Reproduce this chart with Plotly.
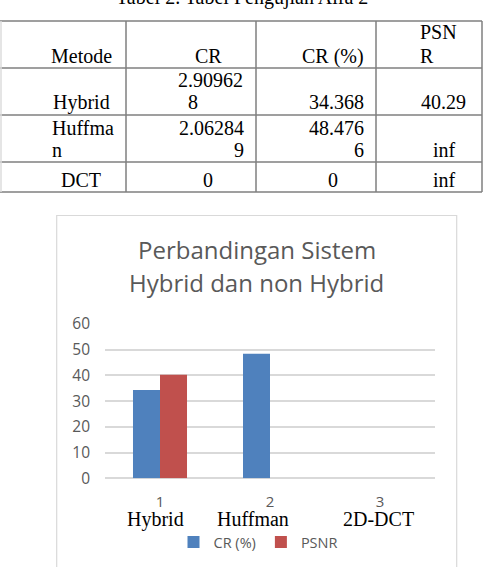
import plotly.graph_objects as go

W, H = 485, 567

# ---------------- data ----------------
caption = "Tabel 2. Tabel Pengujian Alfa 2"
table_header = ["Metode", "CR", "CR (%)", "PSNR"]
table_methods = ["Hybrid", "Huffman", "DCT"]
table_cr = ["2.909628", "2.062849", "0"]
table_cr_pct = ["34.368", "48.4766", "0"]
table_psnr = ["40.29", "inf", "inf"]

chart_title = ["Perbandingan Sistem", "Hybrid dan non Hybrid"]
categories = [1, 2, 3]
category_labels = ["1", "2", "3"]
category_names = ["Hybrid", "Huffman", "2D-DCT"]
series_names = ["CR (%)", "PSNR"]
cr_pct = [34.368, 48.4766, 0]
psnr = [40.29, None, None]          # "inf" values are not plotted
y_ticks = [0, 10, 20, 30, 40, 50, 60]

# ---------------- styles / geometry (pixels) ----------------
def px(x):
    return x / W

def py(y):
    return 1 - y / H

SERIF = "Times New Roman, Liberation Serif, serif"
SANS = "Open Sans, Noto Sans, sans-serif"
GRAY_TXT = "#595959"
GRID = "#D9D9D9"
BLUE = "#4F81BD"
RED = "#C0504D"

col_edges = [1, 126, 256, 376, 482]
row_edges = [21, 68, 115, 162, 192]
wrap_header = [6, 7, 6, 3]
wrap_body = [6, 7, 6, 5]
line_y = {0: [32.5, 56], 1: [79.5, 102.5], 2: [127.5, 149.5], 3: [180.5]}
cell_pos = {
    (0, 0): [(81, "center")], (0, 1): [(208.5, "center")], (0, 2): [(365, "right")],
    (0, 3): [(419, "left"), (419, "left")],
    (1, 0): [(81, "center")], (1, 1): [(177, "left"), (187, "left")],
    (1, 2): [(365, "right")], (1, 3): [(467, "right")],
    (2, 0): [(51, "left"), (51, "left")], (2, 1): [(245, "right"), (245, "right")],
    (2, 2): [(365, "right"), (365, "right")], (2, 3): [(457, "right")],
    (3, 0): [(81, "center")], (3, 1): [(208, "center")], (3, 2): [(333, "center")],
    (3, 3): [(457, "right")],
}


def wrap(s, n):
    return [s[i:i + n] for i in range(0, len(s), n)]


rows = [table_header] + [list(r) for r in zip(table_methods, table_cr, table_cr_pct, table_psnr)]

fig = go.Figure()
fig.add_trace(go.Bar(x=categories, y=cr_pct, name=series_names[0], marker_color=BLUE,
                     marker_line_width=0))
fig.add_trace(go.Bar(x=categories, y=psnr, name=series_names[1], marker_color=RED,
                     marker_line_width=0))

annotations = []
shapes = []

# caption (partly cut off at the top of the page)
annotations.append(dict(text=caption, x=px(241.5), y=py(-2.6), xref="paper", yref="paper",
                        xanchor="center", yanchor="middle", showarrow=False,
                        font=dict(family=SERIF, size=20, color="#000")))

# table grid
for yy in row_edges:
    shapes.append(dict(type="line", xref="paper", yref="paper", x0=px(0), x1=px(482),
                       y0=py(yy), y1=py(yy), line=dict(color="#7F7F7F", width=1.5)))
for i, xx in enumerate(col_edges):
    shapes.append(dict(type="line", xref="paper", yref="paper", x0=px(xx), x1=px(xx),
                       y0=py(row_edges[0]), y1=py(row_edges[-1]),
                       line=dict(color="#DDDDDD" if i == 0 else "#7F7F7F", width=1.5)))

# table text
for r, row in enumerate(rows):
    widths = wrap_header if r == 0 else wrap_body
    for c, val in enumerate(row):
        lines = wrap(val, widths[c])
        slots = line_y[r][-len(lines):]
        for k, (ln, yy) in enumerate(zip(lines, slots)):
            xx, anc = cell_pos[(r, c)][k]
            annotations.append(dict(text=ln, x=px(xx), y=py(yy), xref="paper", yref="paper",
                                    xanchor=anc, yanchor="middle", showarrow=False, borderpad=0,
                                    font=dict(family=SERIF, size=20, color="#000")))

# chart frame
shapes.append(dict(type="rect", xref="paper", yref="paper", x0=px(56.7), x1=px(456.7),
                   y0=py(572), y1=py(215.5), line=dict(color=GRID, width=1.2), layer="below"))

# chart title
for t, yy in zip(chart_title, [249.5, 282.5]):
    annotations.append(dict(text=t, x=px(256.5), y=py(yy), xref="paper", yref="paper",
                            xanchor="center", yanchor="middle", showarrow=False,
                            font=dict(family=SANS, size=24, color=GRAY_TXT)))

# category names written under the axis
name_shift = [-5, -17, -2]
for cat, nm, sh in zip(categories, category_names, name_shift):
    annotations.append(dict(text=nm, x=cat, xref="x", y=py(519), yref="paper", xshift=sh,
                            xanchor="center", yanchor="middle", showarrow=False,
                            font=dict(family=SERIF, size=20, color="#000")))

fig.update_layout(
    width=W, height=H,
    margin=dict(l=0, r=0, t=0, b=0, autoexpand=False),
    paper_bgcolor="white", plot_bgcolor="white",
    barmode="group", bargap=0.509, bargroupgap=0,
    showlegend=True,
    legend=dict(orientation="h", x=px(258), xanchor="center", y=py(542), yanchor="middle",
                font=dict(family=SANS, size=14.5, color=GRAY_TXT), itemwidth=30,
                bgcolor="rgba(0,0,0,0)"),
    xaxis=dict(domain=[px(105), px(435)], range=[0.5, 3.5], tickvals=categories,
               ticktext=category_labels, showgrid=False, showline=False, zeroline=False,
               ticks="", ticklabelstandoff=13,
               tickfont=dict(family=SANS, size=15, color=GRAY_TXT), fixedrange=True),
    yaxis=dict(domain=[py(478.3), py(324)], range=[0, 60], tickvals=y_ticks,
               showgrid=True, gridcolor=GRID, gridwidth=1.5, zeroline=True,
               zerolinecolor=GRID, zerolinewidth=1.5, showline=False, ticks="",
               ticklabelstandoff=14,
               tickfont=dict(family=SANS, size=15.5, color=GRAY_TXT), fixedrange=True),
    shapes=shapes,
    annotations=annotations,
)

fig.write_html("out.html")
